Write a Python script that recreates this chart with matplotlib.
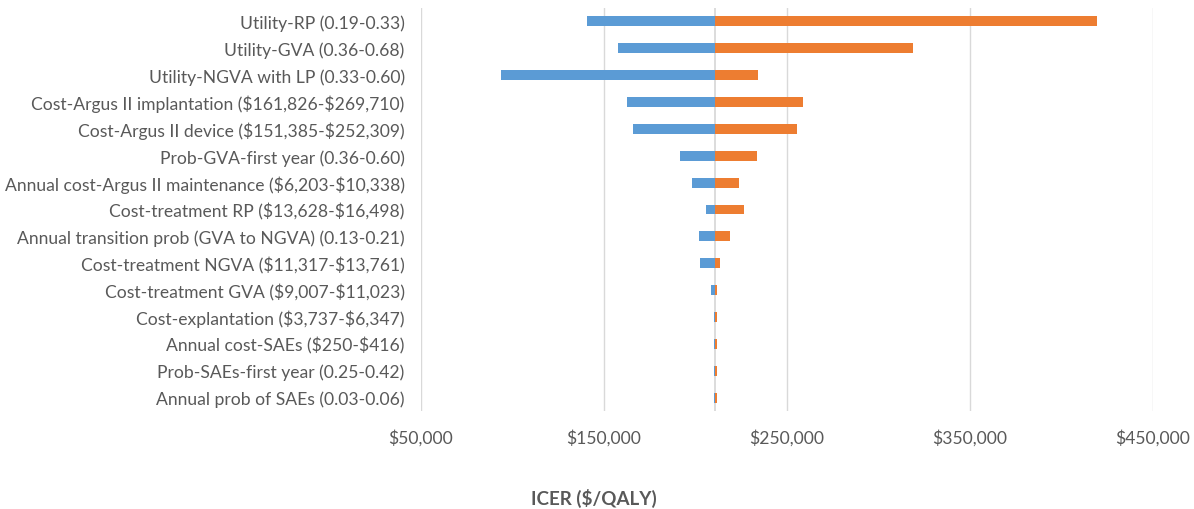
import numpy as np
import matplotlib
matplotlib.use("Agg")
import matplotlib.pyplot as plt
from matplotlib.ticker import FuncFormatter

plt.rcParams['font.family'] = ['Lato', 'DejaVu Sans']
plt.rcParams['text.parse_math'] = False

params = ["Utility-RP (0.19-0.33)",
          "Utility-GVA (0.36-0.68)",
          "Utility-NGVA with LP (0.33-0.60)",
          "Cost-Argus II implantation ($161,826-$269,710)",
          "Cost-Argus II device ($151,385-$252,309)",
          "Prob-GVA-first year (0.36-0.60)",
          "Annual cost-Argus II maintenance ($6,203-$10,338)",
          "Cost-treatment RP ($13,628-$16,498)",
          "Annual transition prob (GVA to NGVA) (0.13-0.21)",
          "Cost-treatment NGVA ($11,317-$13,761)",
          "Cost-treatment GVA ($9,007-$11,023)",
          "Cost-explantation ($3,737-$6,347)",
          "Annual cost-SAEs ($250-$416)",
          "Prob-SAEs-first year (0.25-0.42)",
          "Annual prob of SAEs (0.03-0.06)"]

base = 210600
icer_low = [141000, 157800, 94000, 162900, 166200, 191800, 198400,
            205900, 202100, 202800, 208500, 210400, 210400, 210400, 210400]
icer_high = [419500, 319200, 234100, 258700, 255400, 233600, 223900,
             226500, 218800, 213700, 211700, 211700, 211700, 211700, 211700]
xticks = [50000, 150000, 250000, 350000, 450000]

blue = "#5B9BD5"
orange = "#ED7D31"
grey = "#595959"

fig = plt.figure(figsize=(11.94, 5.10), dpi=100)
ax = fig.add_axes([420.7 / 1194, 1 - 412 / 510, 732 / 1194, 403 / 510])

y = np.arange(len(params))
low = np.array(icer_low) - base
high = np.array(icer_high) - base

ax.barh(y, low, left=base, height=0.37, color=blue, zorder=3)
ax.barh(y, high, left=base, height=0.37, color=orange, zorder=3)

ax.set_xlim(50000, 450000)
ax.set_ylim(len(params) - 0.5, -0.5)
ax.set_xticks(xticks)
ax.xaxis.set_major_formatter(FuncFormatter(lambda v, p: "${:,.0f}".format(v)))
ax.set_yticks(y)
ax.set_yticklabels(params)

ax.grid(axis="x", color="#D9D9D9", lw=1, zorder=0)
ax.axvline(base, color="#D9D9D9", lw=1.3, zorder=1)
for s in ax.spines.values():
    s.set_visible(False)

ax.tick_params(axis="both", length=0, colors=grey, labelsize=12.6)
ax.tick_params(axis="x", pad=13)
ax.tick_params(axis="y", pad=11.5)

fig.text(594 / 1194, 1 - 498 / 510, "ICER ($/QALY)", ha="center", va="center",
         fontsize=13.5, fontweight="bold", color=grey)

fig.savefig("out.png", dpi=100)
